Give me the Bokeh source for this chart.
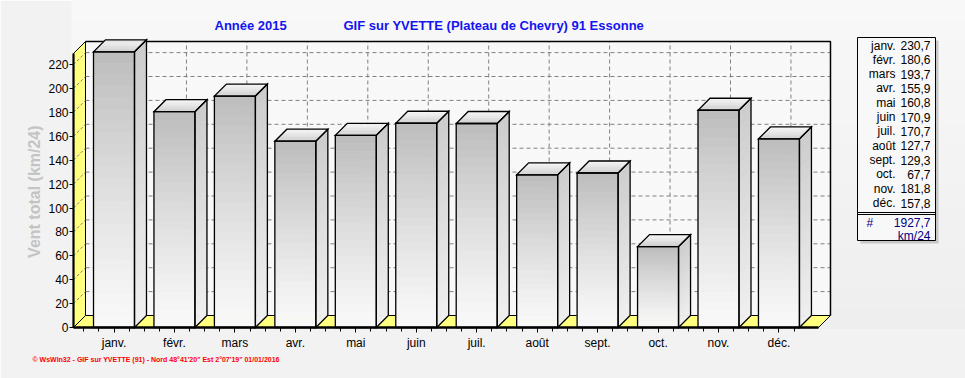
from bokeh.plotting import figure
from bokeh.models import Range1d, FixedTicker, Title
from bokeh.core.properties import value
from bokeh.embed import file_html
from bokeh.resources import INLINE

# ---------------- data ----------------
months = ["janv.", "févr.", "mars", "avr.", "mai", "juin",
          "juil.", "août", "sept.", "oct.", "nov.", "déc."]
wind = [230.7, 180.6, 193.7, 155.9, 160.8, 170.9,
        170.7, 127.7, 129.3, 67.7, 181.8, 157.8]
y_ticks = [0, 20, 40, 60, 80, 100, 120, 140, 160, 180, 200, 220]
total_value = 1927.7
unit_text = "km/24"
title_year = "Année  2015"
title_station = "GIF sur YVETTE (Plateau de Chevry) 91 Essonne"
y_title = "Vent total  (km/24)"
footer = "\u00a9 WsWin32 - GIF sur YVETTE (91) - Nord 48\u00b041'20\"  Est 2\u00b007'19\"  01/01/2016"

# ---------------- geometry ----------------
PX = 60.45          # pixels per category
PY = 1.195          # pixels per unit
XL, XR = -0.670, 11.654
DX, DY = 12 / PX, 12 / PY
YTF = 229.3
HW = 0.339
N = 24
FONT = "Liberation Sans"
BG = "#f2f2f2"

FL, FB = 71, 329          # frame left / bottom in pixels
X0 = XL - 2 / PX
Y0 = -2 / PY

def cx(px):
    return X0 + (px - FL) / PX

def cy(py):
    return Y0 + (FB - py) / PY

def gray(g):
    g = int(round(g))
    return "#%02x%02x%02x" % (g, g, g)

p = figure(width=965, height=378, output_backend="svg", toolbar_location=None,
           title=None,
           x_range=Range1d(X0, cx(965)), y_range=Range1d(Y0, cy(0)),
           min_border_left=FL, min_border_right=0,
           min_border_top=0, min_border_bottom=378 - FB)
p.background_fill_color = BG
p.border_fill_color = BG
p.outline_line_color = None
p.xgrid.visible = False
p.ygrid.visible = False

# subtle background shading inside the frame (top lighter)
NBG = 16
p.quad(left=[X0] * NBG, right=[cx(965)] * NBG,
       top=[cy(329 * b / NBG) for b in range(NBG)],
       bottom=[cy(329 * (b + 1) / NBG) for b in range(NBG)],
       fill_color=[gray(248 - 10 * (b + 0.5) / NBG) for b in range(NBG)],
       line_color=None)

# back wall
p.quad(left=[XL + DX], right=[XR + DX], bottom=[DY], top=[YTF + DY],
       fill_color="#f8f8f8", line_color=None)
for t in y_ticks[1:]:
    p.line([XL + DX, XR + DX], [t + DY, t + DY], line_color="#808080",
           line_dash="4 3", line_width=1)
for i in range(len(months)):
    p.line([i + DX, i + DX], [DY, YTF + DY], line_color="#808080",
           line_dash="4 3", line_width=1)
p.line([XL + DX, XR + DX, XR + DX], [YTF + DY, YTF + DY, DY],
       line_color="black", line_width=1.5)

# left wall
p.patch([XL, XL, XL + DX, XL + DX], [0, YTF, YTF + DY, DY],
        fill_color="#ffff80", line_color="black", line_width=1)
for t in y_ticks[1:]:
    p.line([XL, XL + DX], [t, t + DY], line_color="#808080",
           line_dash="3 2", line_width=1)
# floor
p.patch([XL, XR, XR + DX, XL + DX], [0, 0, DY, DY],
        fill_color="#ffff80", line_color="black", line_width=1)

# bars
fl, fr, fb, ft, fc = [], [], [], [], []
sx, sy, sc = [], [], []
tx, ty, tc = [], [], []
ox, oy = [], []
for i, v in enumerate(wind):
    xl, xr = i - HW, i + HW
    for k in range(N):
        h0, h1 = v * k / N, v * (k + 1) / N
        fl.append(xl); fr.append(xr); fb.append(h0); ft.append(h1)
        fc.append(gray(249 - 60 * ((k + 0.5) / N) ** 1.2))
        sx.append([xr, xr, xr + DX, xr + DX])
        sy.append([h0, h1, h1 + DY, h0 + DY])
        sc.append(gray(240 - 36 * (k + 0.5) / N))
    M = 8
    for s in range(M):
        a, b = s / M, (s + 1) / M
        tx.append([xl + DX * a, xr + DX * a, xr + DX * b, xl + DX * b])
        ty.append([v + DY * a, v + DY * a, v + DY * b, v + DY * b])
        tc.append(gray(205 + 42 * (s + 0.5) / M))
    ox += [[xl, xr, xr, xl], [xr, xr + DX, xr + DX, xr],
           [xl, xr, xr + DX, xl + DX]]
    oy += [[0, 0, v, v], [0, DY, v + DY, v], [v, v, v + DY, v + DY]]

p.quad(left=fl, right=fr, bottom=fb, top=ft, fill_color=fc, line_color=fc,
       line_width=0.6)
p.patches(sx, sy, fill_color=sc, line_color=sc, line_width=0.6)
p.patches(tx, ty, fill_color=tc, line_color=tc, line_width=0.6)
p.patches(ox, oy, fill_color=None, line_color="black", line_width=1.3,
          line_join="miter")

# thick front edges
p.line([XL, XL], [0, YTF], line_color="black", line_width=2.2)
p.line([XL, XR], [0, 0], line_color="black", line_width=2.5)

# axes
ya = p.yaxis[0]
ya.ticker = FixedTicker(ticks=y_ticks)
ya.axis_line_color = None
ya.major_tick_in = 2
ya.major_tick_out = 2
ya.minor_tick_line_color = None
ya.major_label_standoff = 1
ya.major_label_text_font = FONT
ya.major_label_text_font_size = "12px"
ya.major_label_text_color = "black"
# trailing non-breaking spaces move the centred label down to the box middle
ya.axis_label = y_title + "\u00a0" * 11
ya.axis_label_text_font = FONT
ya.axis_label_text_font_size = "16px"
ya.axis_label_text_font_style = "bold"
ya.axis_label_text_color = "#c4c4c4"
ya.axis_label_standoff = 2

xa = p.xaxis[0]
minor = []
for i in range(len(months)):
    minor += [i - 0.5, i - 0.25, i + 0.25]
xa.ticker = FixedTicker(ticks=list(range(len(months))), minor_ticks=minor)
xa.major_label_overrides = {i: m for i, m in enumerate(months)}
xa.axis_line_color = None
xa.major_tick_in = 2
xa.major_tick_out = 3
xa.minor_tick_in = 2
xa.minor_tick_out = 2
xa.major_label_standoff = 3
xa.major_label_text_font = FONT
xa.major_label_text_font_size = "12px"
xa.major_label_text_color = "black"

# footer
p.add_layout(Title(text=footer, align="left", offset=-39, standoff=2,
                   text_font=FONT, text_font_size="7px",
                   text_font_style="bold", text_color="#ff0000"), "below")

# titles
p.text(x=[cx(214)], y=[cy(25)], text=[title_year], text_font=value(FONT),
       text_font_size="13px", text_font_style="bold", text_color="#1414f0",
       text_baseline="middle", text_align="left")
p.text(x=[cx(343)], y=[cy(25)], text=[title_station], text_font=value(FONT),
       text_font_size="13px", text_font_style="bold", text_color="#1414f0",
       text_baseline="middle", text_align="left")

# legend box
p.quad(left=[cx(860)], right=[cx(938)], top=[cy(40)], bottom=[cy(243)],
       fill_color="#c8c8c8", line_color=None)
p.quad(left=[cx(857)], right=[cx(935)], top=[cy(37)], bottom=[cy(240)],
       fill_color="#f8f8f8", line_color="black", line_width=1)
p.quad(left=[cx(857)], right=[cx(935)], top=[cy(212)], bottom=[cy(214)],
       fill_alpha=0, line_color="black", line_width=1)
lab_y = [cy(45 + 14.33 * i) for i in range(len(months))]
vals = [("%.1f" % v).replace(".", ",") for v in wind]
p.text(x=[cx(895)] * len(months), y=lab_y, text=months, text_font=value(FONT),
       text_font_size="12px", text_color="black", text_align="right",
       text_baseline="middle")
p.text(x=[cx(930)] * len(months), y=lab_y, text=vals, text_font=value(FONT),
       text_font_size="12px", text_color="black", text_align="right",
       text_baseline="middle")
p.text(x=[cx(866)], y=[cy(222)], text=["#"], text_font=value(FONT),
       text_font_size="12px", text_color="#000080", text_align="left",
       text_baseline="middle")
p.text(x=[cx(930), cx(930)], y=[cy(222), cy(235)],
       text=[("%.1f" % total_value).replace(".", ","), unit_text],
       text_font=value(FONT), text_font_size="12px", text_color="#000080",
       text_align="right", text_baseline="middle")

open("out.html", "w").write(file_html(p, INLINE))
